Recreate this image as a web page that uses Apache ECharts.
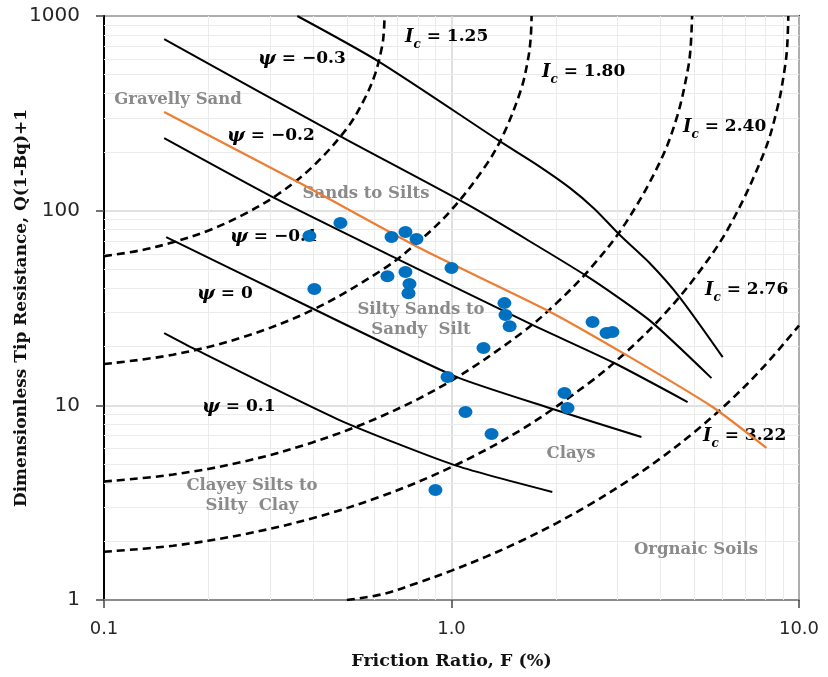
<!DOCTYPE html>
<html><head><meta charset="utf-8">
<script src="https://cdn.jsdelivr.net/npm/echarts@6.0.0/dist/echarts.min.js"></script>
<style>html,body{margin:0;padding:0;background:#fff}#c{width:828px;height:677px}</style>
</head><body><div id="c"></div>
<script>
// ---------- data ----------
const xMinorTicks = [0.2,0.3,0.4,0.5,0.6,0.7,0.8,0.9,2,3,4,5,6,7,8,9];
const yMinorTicks = [2,3,4,5,6,7,8,9,20,30,40,50,60,70,80,90,200,300,400,500,600,700,800,900];

// measured points: Friction ratio F (%) and Q(1-Bq)+1
const soilF = [0.390,0.479,0.403,0.672,0.737,0.793,1.00,0.654,0.737,0.757,0.752,1.42,1.43,1.47,1.236,0.974,1.097,1.304,0.899,2.114,2.157,2.546,2.793,2.905];
const soilQ = [74.1,86.4,39.6,73.2,77.6,71.5,50.7,46.1,48.4,42.0,37.7,33.5,29.1,25.5,19.7,13.97,9.24,7.12,3.67,11.57,9.69,26.8,23.5,23.8];

// state parameter contours (psi)
const psiM03 = [[0.36,1000],[0.621,580],[1.39,225],[1.745,174],[2.19,131],[2.58,102],[3.05,75],[3.71,54],[4.53,36],[6.03,17.7]];
const psiM02 = [[0.149,761],[0.476,242],[1.127,106],[2.45,46.1],[3.71,27.4],[5.6,13.8]];
const psiM01 = [[0.149,236],[0.31,116],[0.70,56.4],[1.71,25.9],[2.94,16.5],[4.78,10.4]];
const psi0   = [[0.151,73.2],[0.39,32.0],[1.033,14.0],[1.915,9.69],[3.52,6.87]];
const psiP01 = [[0.149,23.5],[0.185,19.2],[0.476,8.4],[1.02,4.93],[1.95,3.59]];

// orange trend line
const trendLine = [[0.149,321],[0.365,139],[0.809,64.3],[1.877,30.9],[3.19,18.1],[5.64,9.8],[8.06,6.04]];

// soil behaviour type index contours (Ic)
const ic125 = [[0.1,58.4],[0.126,62.3],[0.158,68.8],[0.2,79.1],[0.251,95.1],[0.316,121],[0.398,168],[0.501,266],[0.562,375],[0.603,504],[0.631,695],[0.638,806],[0.642,1000]];
const ic180 = [[0.1,16.3],[0.158,18.2],[0.251,22.4],[0.398,30.9],[0.631,49.6],[0.794,68],[1.0,101],[1.259,172],[1.413,248],[1.585,419],[1.66,597],[1.69,770],[1.70,1000]];
const ic240 = [[0.1,4.06],[0.158,4.41],[0.251,5.13],[0.398,6.45],[0.631,8.81],[1.0,13.4],[1.585,23.4],[1.995,33.2],[2.512,50.6],[3.162,85.8],[3.981,178],[4.467,308],[4.786,529],[4.875,685],[4.924,1000]];
const ic276 = [[0.1,1.77],[0.158,1.90],[0.251,2.17],[0.398,2.63],[0.631,3.42],[1.0,4.82],[1.585,7.48],[2.512,13.2],[3.162,18.6],[3.981,27.8],[5.012,45.2],[6.31,83.2],[7.943,200],[8.71,350],[9.12,553],[9.25,705],[9.315,1000]];
const ic322 = [[0.50,1.0],[0.631,1.07],[0.794,1.22],[1.0,1.415],[1.259,1.67],[1.585,2.01],[1.995,2.47],[2.512,3.11],[3.162,4.01],[3.981,5.32],[5.012,7.32],[6.31,10.5],[7.943,15.9],[10,25.7]];

// ---------- chart ----------
const chart = echarts.init(document.getElementById('c'), null, {renderer:'canvas'});
const SERIF = '"DejaVu Serif", serif';
const dashStyle = {color:'#000', width:2.6, type:[8,5]};
const solidStyle = {color:'#000', width:2};
function curve(data, ls, z, sm){ return {type:'line', data:data, smooth:(sm == null ? 0.35 : sm), symbol:'none', silent:true, lineStyle:ls, z:z||2, animation:false}; }

const gray = '#8a8a8a';
function regionText(x, y, t){
  return {type:'text', x:x, y:y, z:1.5, silent:true,
    style:{text:t, align:'center', verticalAlign:'middle', fill:gray, font:'bold 16.5px ' + SERIF, lineHeight:20}};
}
function psiText(x, y, v){
  return {type:'text', x:x, y:y, z:1.5, silent:true,
    style:{text:'{p|ψ} = ' + v, align:'left', verticalAlign:'middle', fill:'#000', font:'bold 17px ' + SERIF,
      rich:{p:{font:'bold italic 19px ' + SERIF}}}};
}
function icText(x, y, v){
  return {type:'text', x:x, y:y, z:1.5, silent:true,
    style:{text:'{i|I}{s|c} = ' + v, align:'left', verticalAlign:'middle', fill:'#000', font:'bold 17px ' + SERIF,
      rich:{i:{font:'bold italic 18px ' + SERIF}, s:{font:'bold italic 12px ' + SERIF, verticalAlign:'bottom', lineHeight:28}}}};
}

const minorLines = xMinorTicks.map(v => ({xAxis:v})).concat(yMinorTicks.map(v => ({yAxis:v})));

chart.setOption({
  animation:false,
  backgroundColor:'#fff',
  grid:{left:104, right:29, top:16, bottom:77, containLabel:false, outerBoundsMode:'none',
    show:true, borderColor:'#3a3a3a', borderWidth:2, backgroundColor:'transparent'},
  xAxis:{type:'log', logBase:10, min:0.1, max:10,
    name:'Friction Ratio, F (%)', nameLocation:'middle', nameGap:52, nameMoveOverlap:false,
    nameTextStyle:{fontFamily:SERIF, fontWeight:'bold', fontSize:17.5, color:'#111'},
    axisLine:{show:true, lineStyle:{color:'#8c8c8c', width:2}},
    axisTick:{show:true, length:8, lineStyle:{color:'#444', width:1.5}},
    axisLabel:{formatter:v => Number(v).toFixed(1), fontFamily:'"DejaVu Sans", sans-serif', fontSize:18, color:'#262626', margin:20},
    splitLine:{show:true, lineStyle:{color:'#d6d6d6', width:1.5}}
  },
  yAxis:{type:'log', logBase:10, min:1, max:1000,
    name:'Dimensionless Tip Resistance, Q(1-Bq)+1', nameLocation:'middle', nameGap:74, nameRotate:90, nameMoveOverlap:false,
    nameTextStyle:{fontFamily:SERIF, fontWeight:'bold', fontSize:17, color:'#111'},
    axisLine:{show:true, lineStyle:{color:'#000', width:2}},
    axisTick:{show:true, length:8, lineStyle:{color:'#444', width:1.5}},
    axisLabel:{formatter:v => String(Math.round(v)), fontFamily:'"DejaVu Sans", sans-serif', fontSize:20, color:'#262626', margin:24},
    splitLine:{show:true, lineStyle:{color:'#d6d6d6', width:1.5}}
  },
  graphic:[
    regionText(178,100,'Gravelly Sand'),
    regionText(366,194,'Sands to Silts'),
    regionText(421,320,'Silty Sands to\nSandy  Silt'),
    regionText(571,454,'Clays'),
    regionText(252,496,'Clayey Silts to\nSilty  Clay'),
    regionText(696,550,'Orgnaic Soils'),
    psiText(258,59,'−0.3'),
    psiText(227,136,'−0.2'),
    psiText(230,237,'−0.1'),
    psiText(197,294,'0'),
    psiText(202,407,'0.1'),
    icText(405,37,'1.25'),
    icText(542,72,'1.80'),
    icText(683,127,'2.40'),
    icText(705,290,'2.76'),
    icText(703,436,'3.22')
  ],
  series:[
    {type:'line', data:[], silent:true, z:1,
      markLine:{silent:true, z:1, symbol:'none', animation:false, label:{show:false},
        lineStyle:{color:'#ebebeb', width:1, type:'solid'}, emphasis:{disabled:true}, data:minorLines}},
    curve(ic125, dashStyle), curve(ic180, dashStyle), curve(ic240, dashStyle), curve(ic276, dashStyle), curve(ic322, dashStyle),
    curve(psiM03, solidStyle, 2, 0.25), curve(psiM02, solidStyle, 2, 0.2), curve(psiM01, solidStyle, 2, 0.2), curve(psi0, solidStyle, 2, 0.2), curve(psiP01, solidStyle, 2, 0.2),
    curve(trendLine, {color:'#ED7D31', width:2.2}, 3, 0.2),
    {type:'scatter', data:soilF.map((f,i) => [f, soilQ[i]]), symbol:'circle', symbolSize:[14,12],
      itemStyle:{color:'#0070C0', opacity:1}, z:4, silent:true}
  ]
});
</script></body></html>
